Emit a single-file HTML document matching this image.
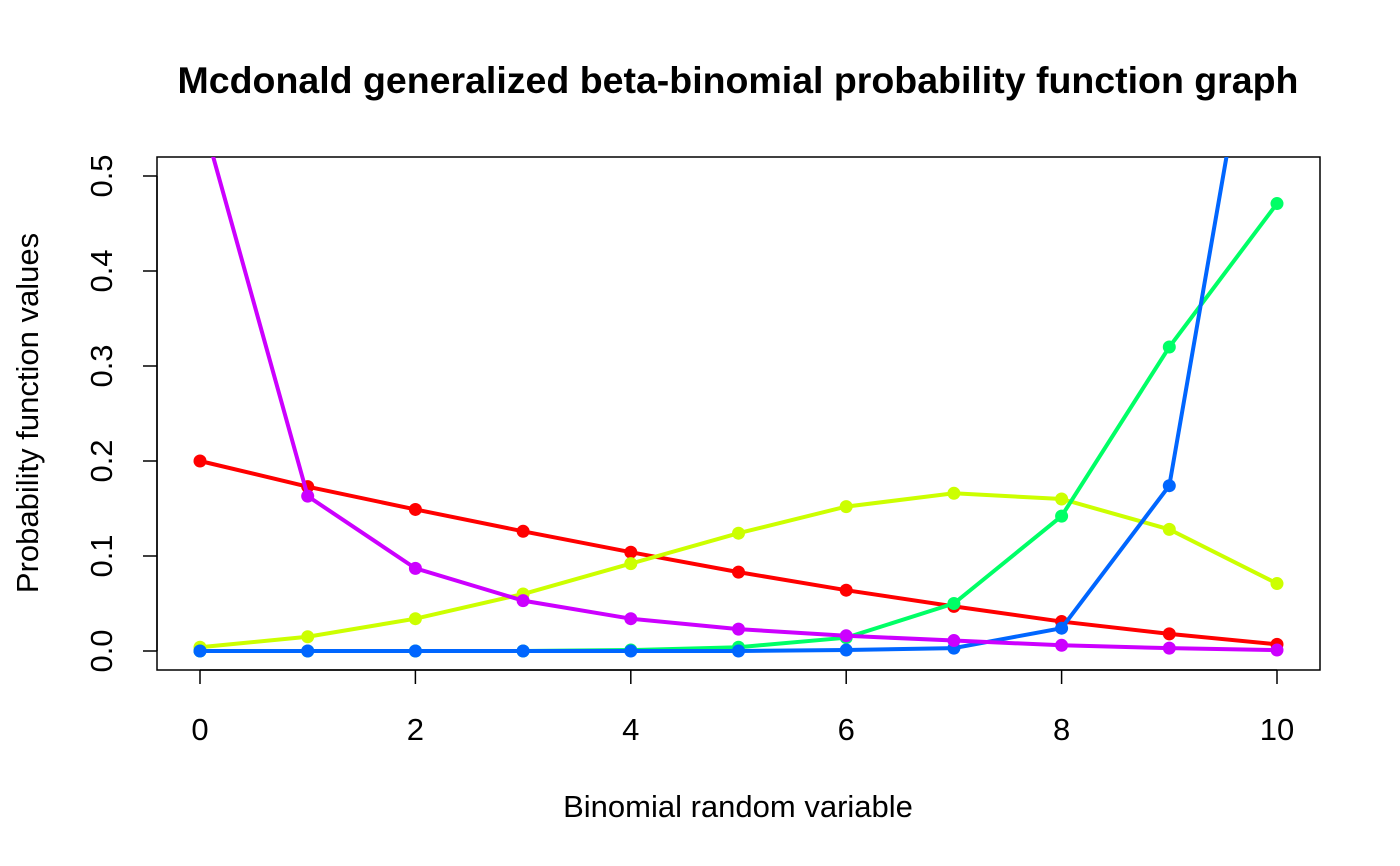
<!DOCTYPE html>
<html><head><meta charset="utf-8"><style>
body{margin:0;background:#fff}
svg{display:block;font-family:"Liberation Sans",sans-serif}
</style></head><body>
<svg id="chart" width="1400" height="866" viewBox="0 0 1400 866">
<defs><clipPath id="clip"><rect x="157" y="157" width="1163" height="513"/></clipPath></defs>
<text x="738" y="93" text-anchor="middle" font-size="37.5" font-weight="bold">Mcdonald generalized beta-binomial probability function graph</text>
<text x="738" y="817" text-anchor="middle" font-size="31">Binomial random variable</text>
<text transform="translate(38,413) rotate(-90)" text-anchor="middle" font-size="31">Probability function values</text>
<rect x="157" y="157" width="1163" height="513" fill="none" stroke="#000" stroke-width="1.5"/>
<g id="axes"></g>
<g id="series" clip-path="url(#clip)"></g>
</svg>
<script>
const categories=[0,1,2,3,4,5,6,7,8,9,10];
const xTicks=[0,2,4,6,8,10];
const yTicks=[0,0.1,0.2,0.3,0.4,0.5];
const yTickLabels=["0.0","0.1","0.2","0.3","0.4","0.5"];
const redValues=[0.2,0.173,0.149,0.126,0.104,0.083,0.064,0.047,0.031,0.018,0.007];
const yellowValues=[0.004,0.015,0.034,0.06,0.092,0.124,0.152,0.166,0.16,0.128,0.071];
const greenValues=[0,0,0,0,0.001,0.004,0.014,0.05,0.142,0.32,0.471];
const blueValues=[0,0,0,0,0,0,0.001,0.003,0.024,0.174,0.826];
const purpleValues=[0.57,0.163,0.087,0.053,0.034,0.023,0.016,0.011,0.006,0.003,0.001];
const NS="http://www.w3.org/2000/svg";
const xs=v=>200+v*107.7;
const ys=v=>651-v*950;
function mk(t,a,p){const e=document.createElementNS(NS,t);for(const k in a)e.setAttribute(k,a[k]);p.appendChild(e);return e;}
const ax=document.getElementById('axes');
mk('line',{x1:xs(0),x2:xs(10),y1:670,y2:670,stroke:'#000','stroke-width':1.5},ax);
xTicks.forEach(t=>{
 const l=mk('line',{x1:xs(t),x2:xs(t),y1:670,y2:684,stroke:'#000','stroke-width':1.5},ax);
 
 
 const tx=mk('text',{x:xs(t),y:740,'text-anchor':'middle','font-size':31},ax);
 tx.textContent=t;
 
 
});
mk('line',{x1:157,x2:157,y1:ys(0),y2:ys(0.5),stroke:'#000','stroke-width':1.5},ax);
yTicks.forEach((t,i)=>{
 const l=mk('line',{x1:143,x2:157,y1:ys(t),y2:ys(t),stroke:'#000','stroke-width':1.5},ax);
 
 
 const tx=mk('text',{transform:`translate(112,${ys(t)}) rotate(-90)`,'text-anchor':'middle','font-size':31},ax);
 tx.textContent=yTickLabels[i];
 
 
});
const sg=document.getElementById('series');
function series(vals,color,name){
 const g=mk('g',{},sg);
 
 
 const pts=vals.map((v,i)=>xs(categories[i])+','+ys(v)).join(' ');
 mk('polyline',{points:pts,fill:'none',stroke:color,'stroke-width':4},g);
 vals.forEach((v,i)=>{
  const c=mk('circle',{cx:xs(categories[i]),cy:ys(v),r:6.5,fill:color},g);
  
  
 });
}
series(redValues,'#ff0000','red-series');
series(yellowValues,'#ccff00','yellow-series');
series(greenValues,'#00ff66','green-series');
series(blueValues,'#0066ff','blue-series');
series(purpleValues,'#cc00ff','purple-series');
</script>
</body></html>
